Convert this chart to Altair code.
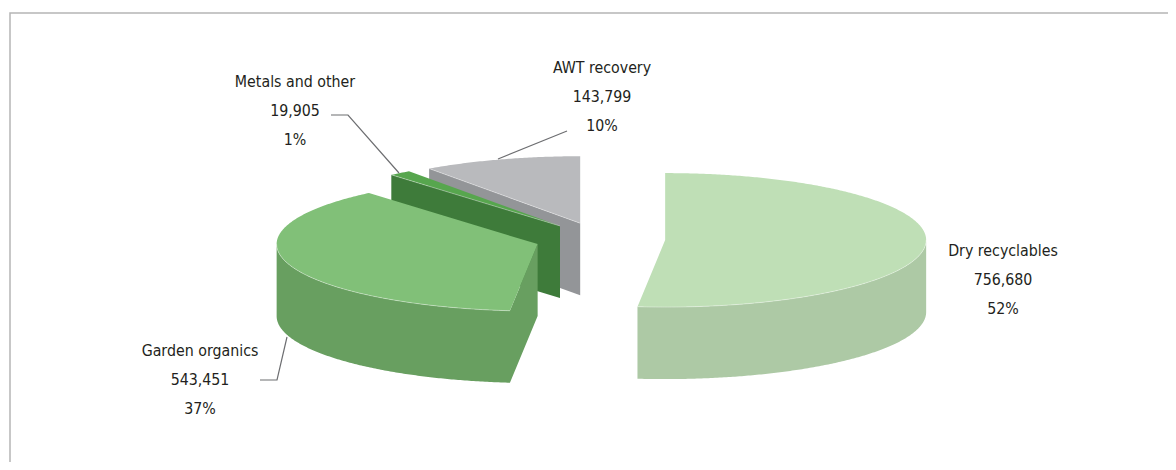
import numpy as np
import pandas as pd
import altair as alt

categories = ["Dry recyclables", "Garden organics", "Metals and other", "AWT recovery"]
values = [756680, 543451, 19905, 143799]
percent_labels = ["52%", "37%", "1%", "10%"]
top_colors = ["#bfdfb6", "#81c078", "#57a64e", "#b9babd"]
side_colors = ["#adc9a5", "#689f60", "#3e7b3a", "#939598"]

W, H = 1160, 454
OX, OY = 8, 8              # page offset of the chart
CX, CY = 600, 239.2        # pie centre on the page
RX, RY = 261, 67           # ellipse radii of the tilted disc
DEPTH = 72
EXPLODE = 0.25


def P(deg, cx, cy, depth=0.0, r=1.0):
    a = np.radians(deg)
    return [float(cx + r * RX * np.sin(a) - OX), float(cy - r * RY * np.cos(a) + depth - OY)]


def feature(coords, color, kind="Polygon"):
    geom = [coords + [coords[0]]] if kind == "Polygon" else coords
    return {"type": "Feature", "geometry": {"type": kind, "coordinates": geom},
            "properties": {"color": color}}


total = sum(values)
edges = np.concatenate([[0], np.cumsum(values) / total * 360])
spans = {}
for i, c in enumerate(categories):
    a0, a1 = float(edges[i]), float(edges[i + 1])
    mid = np.radians((a0 + a1) / 2)
    spans[c] = (a0, a1,
                CX + EXPLODE * RX * np.sin(mid),
                CY - EXPLODE * RY * np.cos(mid))


def arc(a0, a1, cx, cy, depth=0.0):
    n = max(int(abs(a1 - a0) * 2), 2)
    return [P(t, cx, cy, depth) for t in np.linspace(a0, a1, n)]


def rim(a0, a1, cx, cy):
    return arc(a0, a1, cx, cy) + arc(a1, a0, cx, cy, DEPTH)


def wall(angle, cx, cy):
    return [P(0, cx, cy, 0, 0), P(angle, cx, cy), P(angle, cx, cy, DEPTH), P(0, cx, cy, DEPTH, 0)]


def rim_and_wall(a0, a1, cx, cy):
    return (arc(a1, a0, cx, cy)
            + [P(0, cx, cy, 0, 0), P(0, cx, cy, DEPTH, 0)]
            + arc(a0, a1, cx, cy, DEPTH))


def top(a0, a1, cx, cy):
    return [P(0, cx, cy, 0, 0)] + arc(a0, a1, cx, cy)


def group(items):
    return alt.Data(values={"type": "FeatureCollection", "features": items},
                    format=alt.DataFormat(property="features"))


projection = alt.Projection(type="identity", scale=1, translate=[0, 0])


def lines(feats, width, opacity=1.0):
    return (
        alt.Chart(group(feats))
        .mark_geoshape(filled=False, strokeWidth=width, strokeOpacity=opacity)
        .encode(stroke=alt.Stroke("properties.color:N", scale=None))
        .project(**projection.to_dict())
    )


def fills(feats):
    return (
        alt.Chart(group(feats))
        .mark_geoshape(strokeWidth=0)
        .encode(fill=alt.Fill("properties.color:N", scale=None))
        .project(**projection.to_dict())
    )


# painter's order: back slices first, each with a faint light edge on its top face
pie_layers = []
for idx in [3, 2, 1, 0]:
    c = categories[idx]
    a0, a1, cx, cy = spans[c]
    side = side_colors[idx]
    face = []
    edge = []
    if c in ("AWT recovery", "Metals and other"):
        face.append(feature(wall(a0, cx, cy), side))
        edge.append(feature([P(a0, cx, cy), P(0, cx, cy, 0, 0)], "#ffffff", "LineString"))
    if c == "Garden organics":
        face.append(feature(rim_and_wall(a0, 270, cx, cy), side))
        edge.append(feature(arc(a0, 270, cx, cy), "#ffffff", "LineString"))
    if c == "Dry recyclables":
        face.append(feature(rim(90, a1, cx, cy), side))
        edge.append(feature(arc(90, a1, cx, cy), "#ffffff", "LineString"))
    face.append(feature(top(a0, a1, cx, cy), top_colors[idx]))
    pie_layers.append(fills(face))
    pie_layers.append(lines(edge, 0.8, 0.45))

leaders = [
    [[331, 115], [348, 115], [399, 173]],
    [[567, 131], [498, 159]],
    [[260, 380], [277, 380], [287, 337]],
]
leader_features = [
    feature([[x - OX, y - OY] for x, y in pts], "#6d6e71", "LineString") for pts in leaders
]
frame_features = [
    feature([[10 - OX, 462 - OY], [10 - OX, 13 - OY], [1168 - OX, 13 - OY]], "#b5b5b5", "LineString")
]

label_anchor = {
    "Dry recyclables": (1003, 251),
    "Garden organics": (200, 351),
    "Metals and other": (295, 82),
    "AWT recovery": (602, 68),
}
text_layers = []
for i, c in enumerate(categories):
    x, y = label_anchor[c]
    for j, t in enumerate([c, f"{values[i]:,}", percent_labels[i]]):
        text_layers.append(
            alt.Chart(pd.DataFrame({"t": [t]}))
            .mark_text(font="DejaVu Sans Condensed, Roboto, sans-serif", fontSize=15.8, color="#231f20",
                       align="center", baseline="middle")
            .encode(x=alt.value(x - OX), y=alt.value(y + j * 29 - OY), text="t:N")
        )

chart = (
    alt.layer(lines(frame_features, 1.5), *pie_layers, lines(leader_features, 1.2), *text_layers)
    .properties(width=W, height=H, padding=0, autosize=alt.AutoSizeParams(type="none"))
    .configure_view(stroke=None)
)
chart.save("out.html", embed_options={"renderer": "svg", "actions": False})
